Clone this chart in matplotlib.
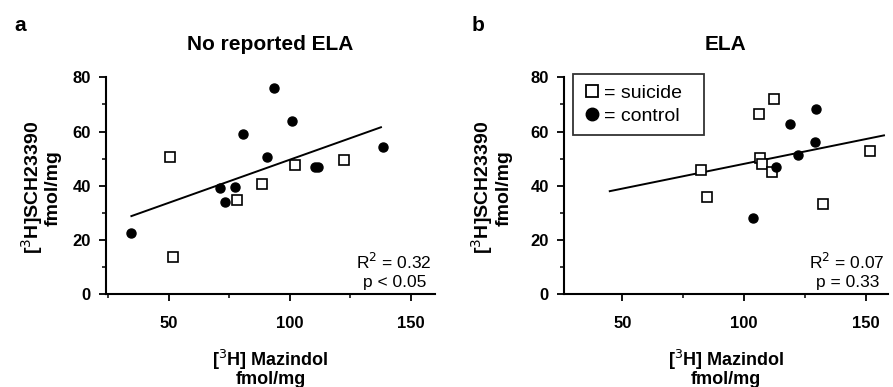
import matplotlib

matplotlib.use("Agg")
import matplotlib.pyplot as plt
from matplotlib.lines import Line2D
from matplotlib.ticker import MultipleLocator

plt.rcParams["font.family"] = ["Liberation Sans", "DejaVu Sans"]

# panel a: no reported early-life adversity
a_suicide_x = [50.4, 51.8, 78.2, 88.4, 102.0, 122.5]
a_suicide_y = [50.7, 13.8, 34.6, 40.5, 47.8, 49.6]
a_control_x = [34.5, 71.0, 73.4, 77.2, 80.8, 90.6, 93.4, 101.1, 110.4, 111.7, 138.7]
a_control_y = [22.7, 39.1, 33.9, 39.7, 59.0, 50.5, 76.0, 63.9, 47.0, 47.0, 54.4]
a_fit_x = [34.5, 137.7]
a_fit_y = [28.8, 61.6]

# panel b: early-life adversity
b_suicide_x = [82.4, 84.8, 106.0, 106.6, 107.4, 111.3, 112.3, 132.4, 151.9]
b_suicide_y = [45.9, 35.7, 66.5, 50.4, 48.2, 45.0, 71.9, 33.3, 52.7]
b_control_x = [103.8, 113.2, 118.9, 122.1, 129.1, 129.6]
b_control_y = [28.2, 46.9, 62.9, 51.4, 56.3, 68.3]
b_fit_x = [44.8, 157.5]
b_fit_y = [38.0, 58.6]

TITLES = ["No reported ELA", "ELA"]
STATS = [("R$^2$ = 0.32", "p < 0.05"), ("R$^2$ = 0.07", "p = 0.33")]


def draw_panel(ax, sx, sy, cx, cy, fx, fy, xlim):
    ax.plot(fx, fy, color="black", lw=1.4, zorder=2)
    ax.plot(sx, sy, ls="none", marker="s", ms=6.5, mfc="white", mec="black", mew=1.2, zorder=3)
    ax.plot(cx, cy, ls="none", marker="o", ms=6.5, mfc="black", mec="black", zorder=3)
    ax.set_xlim(*xlim)
    ax.set_ylim(0, 80)
    ax.xaxis.set_major_locator(MultipleLocator(50))
    ax.xaxis.set_minor_locator(MultipleLocator(25))
    ax.yaxis.set_major_locator(MultipleLocator(20))
    ax.yaxis.set_minor_locator(MultipleLocator(10))
    for side in ["top", "right"]:
        ax.spines[side].set_visible(False)
    for side in ["left", "bottom"]:
        ax.spines[side].set_linewidth(1.5)
    ax.tick_params(which="major", length=5, width=1.3)
    ax.tick_params(which="minor", length=3, width=1.1)
    ax.tick_params(axis="x", which="major", pad=11, labelsize=12)
    ax.tick_params(axis="y", which="major", pad=6, labelsize=12)
    for lab in ax.get_xticklabels() + ax.get_yticklabels():
        lab.set_fontweight("bold")
    ax.set_ylabel("[$^3$H]SCH23390\nfmol/mg", fontsize=14, fontweight="bold", linespacing=1.0)
    ax.set_xlabel("[$^3$H] Mazindol\nfmol/mg", fontsize=13, fontweight="bold", linespacing=0.95, labelpad=12)
    ax.patch.set_alpha(0)


fig = plt.figure(figsize=(8.93, 3.87), dpi=100)
ax_a = fig.add_axes([0.1187, 0.240, 0.3683, 0.560])
ax_b = fig.add_axes([0.6316, 0.240, 0.3624, 0.560])

draw_panel(ax_a, a_suicide_x, a_suicide_y, a_control_x, a_control_y, a_fit_x, a_fit_y, (24, 160))
draw_panel(ax_b, b_suicide_x, b_suicide_y, b_control_x, b_control_y, b_fit_x, b_fit_y, (26, 159))

for ax, title, (r2, p) in zip([ax_a, ax_b], TITLES, STATS):
    ax.set_title(title, fontsize=15, fontweight="bold", pad=20)
    ax.text(0.99, 0.148, r2, transform=ax.transAxes, ha="right", va="center", fontsize=12.5)
    ax.text(0.975, 0.055, p, transform=ax.transAxes, ha="right", va="center", fontsize=12.5)

ax_a.yaxis.set_label_coords(-0.134, 0.49)
ax_b.yaxis.set_label_coords(-0.16, 0.49)

fig.text(0.016, 0.935, "a", fontsize=15, fontweight="bold", va="center")
fig.text(0.528, 0.935, "b", fontsize=15, fontweight="bold", va="center")

handles = [
    Line2D([], [], ls="none", marker="s", ms=8.5, mfc="white", mec="black", mew=1.3),
    Line2D([], [], ls="none", marker="o", ms=9, mfc="black", mec="black"),
]
leg = ax_b.legend(handles, ["= suicide  ", "= control  "], loc="upper left", bbox_to_anchor=(0.028, 1.016),
                  fontsize=14, frameon=True, fancybox=False, handlelength=0.8, handletextpad=0.25,
                  borderpad=0.55, labelspacing=0.25, borderaxespad=0)
leg.get_frame().set_edgecolor("black")
leg.get_frame().set_linewidth(1.3)

fig.savefig("out.png", dpi=100)
